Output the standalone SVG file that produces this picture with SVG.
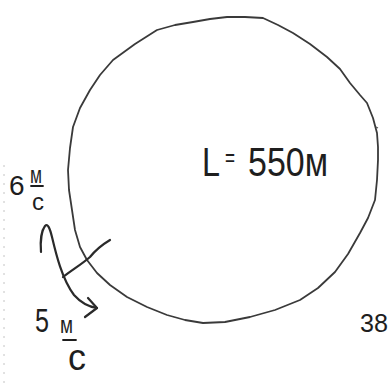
<svg xmlns="http://www.w3.org/2000/svg" width="390" height="383" viewBox="0 0 390 383">
<style>
.ink{fill:none;stroke:#3a3a3a;stroke-width:1.8;stroke-linecap:round;stroke-linejoin:round}
.pen{fill:none;stroke:#2a2a2a;stroke-width:2.2;stroke-linecap:round;stroke-linejoin:round}
.hw{font-family:"Liberation Sans","DejaVu Sans",sans-serif;fill:#1e1e1e}
</style>
<rect width="390" height="383" fill="#ffffff"/>
<line x1="4" y1="165" x2="4" y2="383" stroke="#c4c4c4" stroke-width="1" stroke-dasharray="2 7"/>
<g id="track">
<path class="ink" d="M68,170 L70,148 L73,127 L80,108 L90,90 L100,75 L113,60 L135,44 L157,30 L175,25 L193,22 L210,19 L227,17 L245,17 L263,18 L278,25 L293,33 L310,44 L327,57 L340,69 L350,83 L360,95 L367,103 L373,118 L377,133 L378,147 L378,160 L377,180 L375,200 L368,218 L360,233 L348,254 L335,272 L318,288 L300,300 L275,310 L250,317 L225,322 L203,323 L185,320 L167,315 L147,307 L127,297 L110,285 L97,273 L87,260 L80,247 L75,230 L72,210 L69,190 Z"/>
<path d="M376,127 l2,1" stroke="#555" stroke-width="1.2"/>
</g>
<g id="connectors">
<path class="pen" d="M110,240 C100,246 94,252 90,257 C82,264 72,270 63,277"/>
<path class="pen" d="M41,252 C40,240 42,230 45,226 C48,223 50,229 52,237 C56,254 62,279 74,295 C82,304 90,307 97,308"/>
<path class="pen" d="M88,298 L97,308 L85,317"/>
</g>
<g id="label-length">
<text class="hw" x="202" y="176" font-size="40" textLength="18" lengthAdjust="spacingAndGlyphs">L</text>
<text class="hw" x="225" y="166" font-size="26" textLength="10" lengthAdjust="spacingAndGlyphs">=</text>
<text class="hw" x="248" y="176" font-size="40" textLength="80" lengthAdjust="spacingAndGlyphs">550м</text>
</g>
<g id="label-speed-6">
<text class="hw" x="9" y="195" font-size="28">6</text>
<text class="hw" x="30" y="183" font-size="24" textLength="12" lengthAdjust="spacingAndGlyphs">м</text>
<line x1="31" y1="186" x2="43" y2="186" stroke="#1e1e1e" stroke-width="1.8" stroke-linecap="round"/>
<text class="hw" x="32" y="210" font-size="24">с</text>
</g>
<g id="label-speed-5">
<text class="hw" x="35" y="332" font-size="34" textLength="14" lengthAdjust="spacingAndGlyphs">5</text>
<text class="hw" x="60" y="333" font-size="24" textLength="13" lengthAdjust="spacingAndGlyphs">м</text>
<line x1="63" y1="340" x2="76" y2="340" stroke="#1e1e1e" stroke-width="1.8" stroke-linecap="round"/>
<text class="hw" x="68" y="370" font-size="36">с</text>
</g>
<g id="label-corner">
<text class="hw" x="360" y="332" font-size="26" textLength="28" lengthAdjust="spacingAndGlyphs">38</text>
</g>
</svg>
